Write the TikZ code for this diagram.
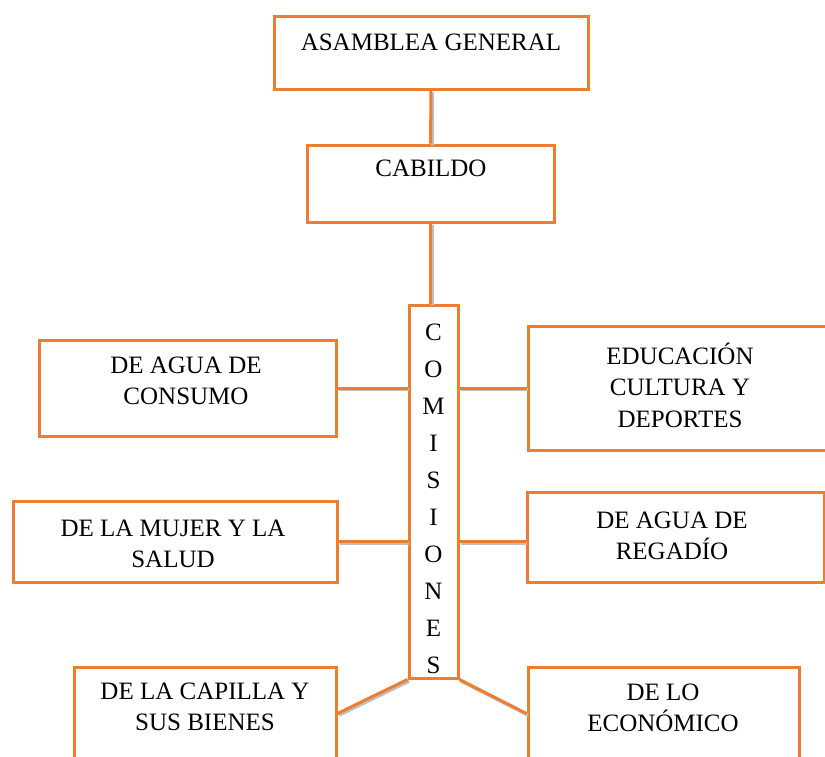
\documentclass[tikz,border=0pt]{standalone}
\usepackage{fontspec}
\setmainfont{Liberation Serif}
\definecolor{orgline}{RGB}{237,125,49}

\begin{document}
\begin{tikzpicture}
[x=0.5pt, y=-0.5pt,
 every node/.style={inner sep=0pt},
 box/.style={rectangle, draw=orgline, line width=1.5pt, fill=white},
 lbl/.style={align=center, text=black, font={\fontsize{12.5}{15.75}\selectfont}},
 conn/.style={draw=orgline, line width=1.5pt, preaction={draw=black!25, line width=1.5pt, transform canvas={shift={(0.8pt,-0.9pt)}}}}]
\useasboundingbox (0,0) rectangle (825,756);
\node (asamblea) [box, minimum width=157pt, minimum height=36.5pt] at (431, 52.5) {};
\node (cabildo) [box, minimum width=123.5pt, minimum height=38.5pt] at (430.5, 183.5) {};
\node (com) [box, minimum width=24.5pt, minimum height=186.5pt] at (433.5, 491.5) {};
\node (consumo) [box, minimum width=148.5pt, minimum height=48pt] at (187.5, 388) {};
\node (educ) [box, minimum width=152pt, minimum height=62pt] at (680, 388) {};
\node (mujer) [box, minimum width=162pt, minimum height=40.5pt] at (175, 541.5) {};
\node (regadio) [box, minimum width=148.5pt, minimum height=45pt] at (675.5, 537) {};
\node (capilla) [box, minimum width=131pt, minimum height=46.5pt] at (205, 713.5) {};
\node (economico) [box, minimum width=135.5pt, minimum height=46.5pt] at (663.5, 713.5) {};
\node (asamblea text) [lbl] at (431, 42) {ASAMBLEA GENERAL};
\node (cabildo text) [lbl] at (431, 168) {CABILDO};
\node (com text) [lbl, font={\fontsize{12.5}{18.5}\selectfont}] at (433.5, 498.5) {C\\O\\M\\I\\S\\I\\O\\N\\E\\S};
\node (consumo text) [lbl] at (186, 381) {DE AGUA DE\\CONSUMO};
\node (educ text) [lbl] at (680, 385) {EDUCACIÓN\\CULTURA Y\\DEPORTES};
\node (mujer text) [lbl] at (173, 544) {DE LA MUJER Y LA\\SALUD};
\node (regadio text) [lbl] at (672, 536) {DE AGUA DE\\REGADÍO};
\node (capilla text) [lbl] at (205, 707) {DE LA CAPILLA Y\\SUS BIENES};
\node (economico text) [lbl] at (663, 708) {DE LO\\ECONÓMICO};
\draw [conn] (asamblea) -- (cabildo);
\draw [conn] (cabildo.south) -- (cabildo.south |- com.north);
\draw [conn] (consumo.east) -- (consumo.east -| com.west);
\draw [conn] (com.east |- educ.west) -- (educ.west);
\draw [conn] (mujer.east) -- (mujer.east -| com.west);
\draw [conn] (com.east |- mujer.east) -- (regadio.west |- mujer.east);
\draw [conn] (capilla.east) -- (com.south west);
\draw [conn] (com.south east) -- (economico.west);
\end{tikzpicture}
\end{document}
